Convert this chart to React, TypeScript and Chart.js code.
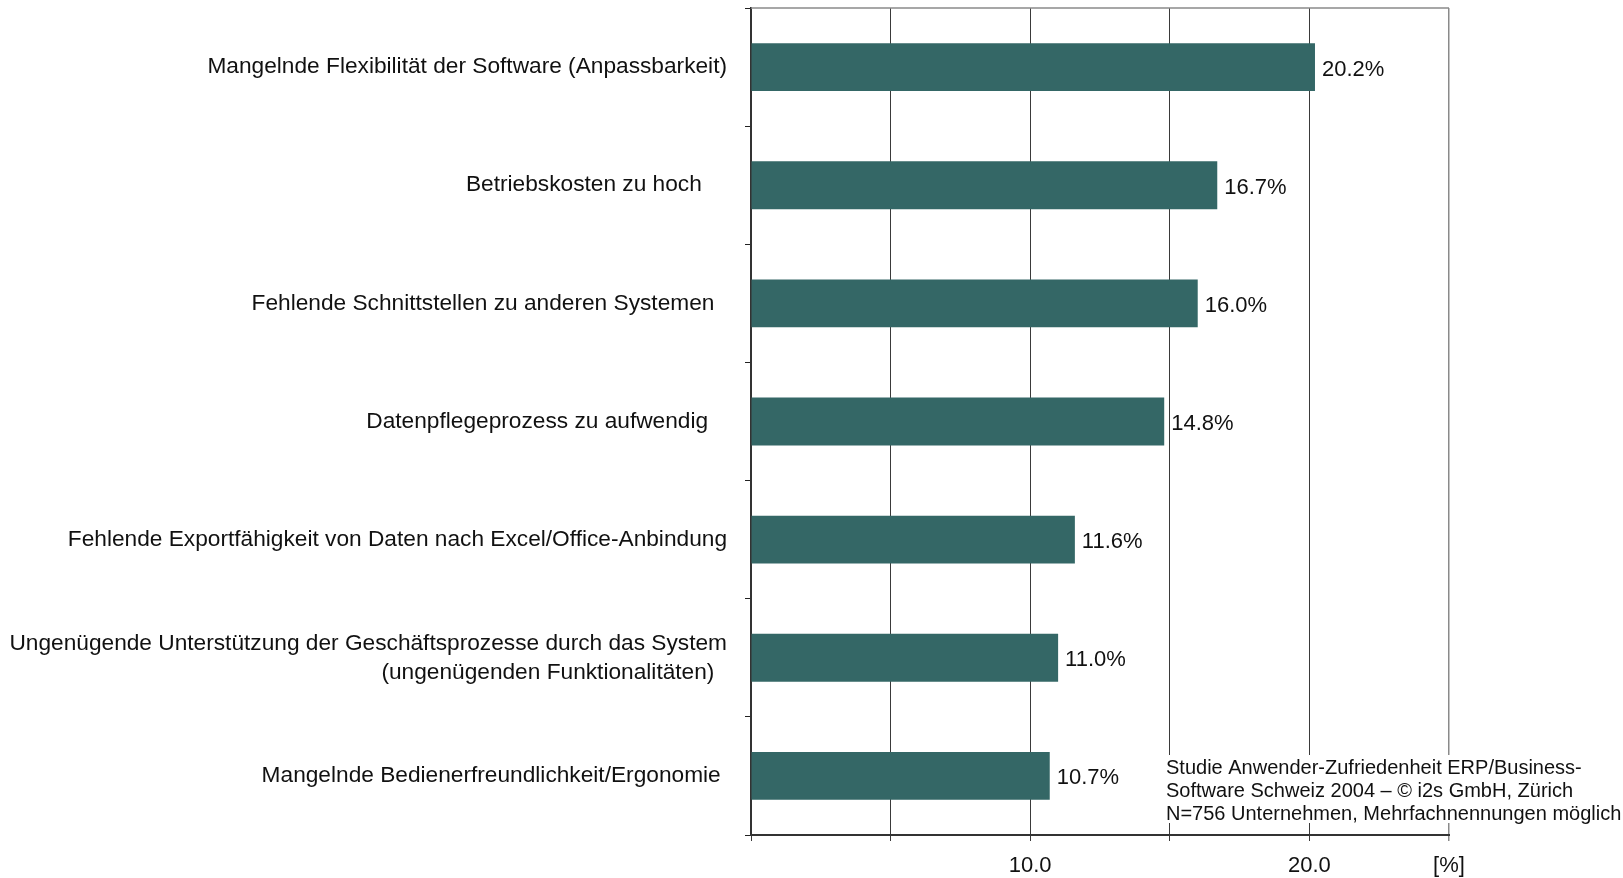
import React, { useEffect, useRef } from 'react';
import { Chart, registerables } from 'chart.js';

Chart.register(...registerables);

const categories: string[][] = [
  ['Mangelnde Flexibilität der Software (Anpassbarkeit)'],
  ['Betriebskosten zu hoch    '],
  ['Fehlende Schnittstellen zu anderen Systemen  '],
  ['Datenpflegeprozess zu aufwendig   '],
  ['Fehlende Exportfähigkeit von Daten nach Excel/Office-Anbindung'],
  ['Ungenügende Unterstützung der Geschäftsprozesse durch das System', '(ungenügenden Funktionalitäten)  '],
  ['Mangelnde Bedienerfreundlichkeit/Ergonomie '],
];

const values: number[] = [20.2, 16.7, 16.0, 14.8, 11.6, 11.0, 10.7];

const xTickLabels: Record<number, string> = { 10: '10.0', 20: '20.0', 25: '[%]' };

const noteLines: string[] = [
  'Studie Anwender-Zufriedenheit ERP/Business-',
  'Software Schweiz 2004 – © i2s GmbH, Zürich',
  'N=756 Unternehmen, Mehrfachnennungen möglich',
];

const FONT = '"Liberation Sans", Arial, Helvetica, sans-serif';
const TEXT = '#111111';
const BAR = '#346766';

export default function App() {
  const ref = useRef<HTMLCanvasElement | null>(null);

  useEffect(() => {
    if (!ref.current) return;

    const decorPlugin = {
      id: 'decor',
      beforeDatasetsDraw(chart: any) {
        const { ctx, chartArea } = chart;
        ctx.save();
        ctx.strokeStyle = '#8a8a8a';
        ctx.lineWidth = 1.5;
        ctx.beginPath();
        ctx.moveTo(chartArea.left, chartArea.top);
        ctx.lineTo(chartArea.right, chartArea.top);
        ctx.stroke();
        ctx.restore();
      },
      afterDatasetsDraw(chart: any) {
        const { ctx } = chart;
        const meta = chart.getDatasetMeta(0);
        ctx.save();
        ctx.fillStyle = TEXT;
        ctx.font = `22px ${FONT}`;
        ctx.textBaseline = 'middle';
        ctx.textAlign = 'left';
        meta.data.forEach((bar: any, i: number) => {
          ctx.fillText(`${values[i].toFixed(1)}%`, bar.x + 7, bar.y + 2.5);
        });
        // note box
        ctx.fillStyle = '#ffffff';
        ctx.fillRect(1160, 755, 463, 68);
        ctx.fillStyle = TEXT;
        ctx.font = `20px ${FONT}`;
        ctx.textBaseline = 'alphabetic';
        noteLines.forEach((line, i) => {
          ctx.fillText(line, 1166, 774 + i * 23);
        });
        ctx.restore();
      },
    };

    const chart = new Chart(ref.current, {
      type: 'bar',
      data: {
        labels: categories,
        datasets: [
          {
            data: values,
            backgroundColor: BAR,
            borderWidth: 0,
            barPercentage: 0.405,
            categoryPercentage: 1,
          },
        ],
      },
      options: {
        indexAxis: 'y',
        responsive: false,
        animation: false,
        devicePixelRatio: 1,
        layout: { padding: { top: 8, right: 174, left: 0, bottom: 0 } },
        plugins: {
          legend: { display: false },
          tooltip: { enabled: false },
          title: { display: false },
        },
        scales: {
          x: {
            type: 'linear',
            min: 0,
            max: 25,
            afterFit: (scale: any) => {
              scale.height = 43;
              scale.paddingLeft = 0;
              scale.paddingRight = 0;
            },
            ticks: {
              stepSize: 5,
              autoSkip: false,
              maxRotation: 0,
              padding: 12,
              color: TEXT,
              font: { family: FONT, size: 22 },
              callback: (v: any) => xTickLabels[Number(v)] ?? '',
            },
            grid: {
              color: (ctx: any) => (ctx.tick && ctx.tick.value === 25 ? '#8a8a8a' : '#3a3a3a'),
              lineWidth: (ctx: any) => (ctx.tick && ctx.tick.value === 25 ? 1.5 : 1),
              tickLength: 6,
              drawTicks: true,
            },
            border: { color: '#333333', width: 2 },
          },
          y: {
            type: 'category',
            afterFit: (scale: any) => {
              scale.width = 751;
              scale.paddingTop = 0;
              scale.paddingBottom = 0;
            },
            ticks: {
              padding: 18,
              color: TEXT,
              autoSkip: false,
              font: { family: FONT, size: 22.7, lineHeight: 1.28 },
            },
            grid: {
              offset: true,
              drawOnChartArea: false,
              drawTicks: true,
              tickLength: 6,
              color: '#222222',
              lineWidth: 1,
            },
            border: { color: '#333333', width: 2 },
          },
        },
      },
      plugins: [decorPlugin],
    });

    return () => chart.destroy();
  }, []);

  return (
    <div style={{ position: 'fixed', left: 0, top: 0, width: 1623, height: 878, background: '#fff' }}>
      <canvas ref={ref} width={1623} height={878} style={{ display: 'block', width: 1623, height: 878 }} />
    </div>
  );
}
